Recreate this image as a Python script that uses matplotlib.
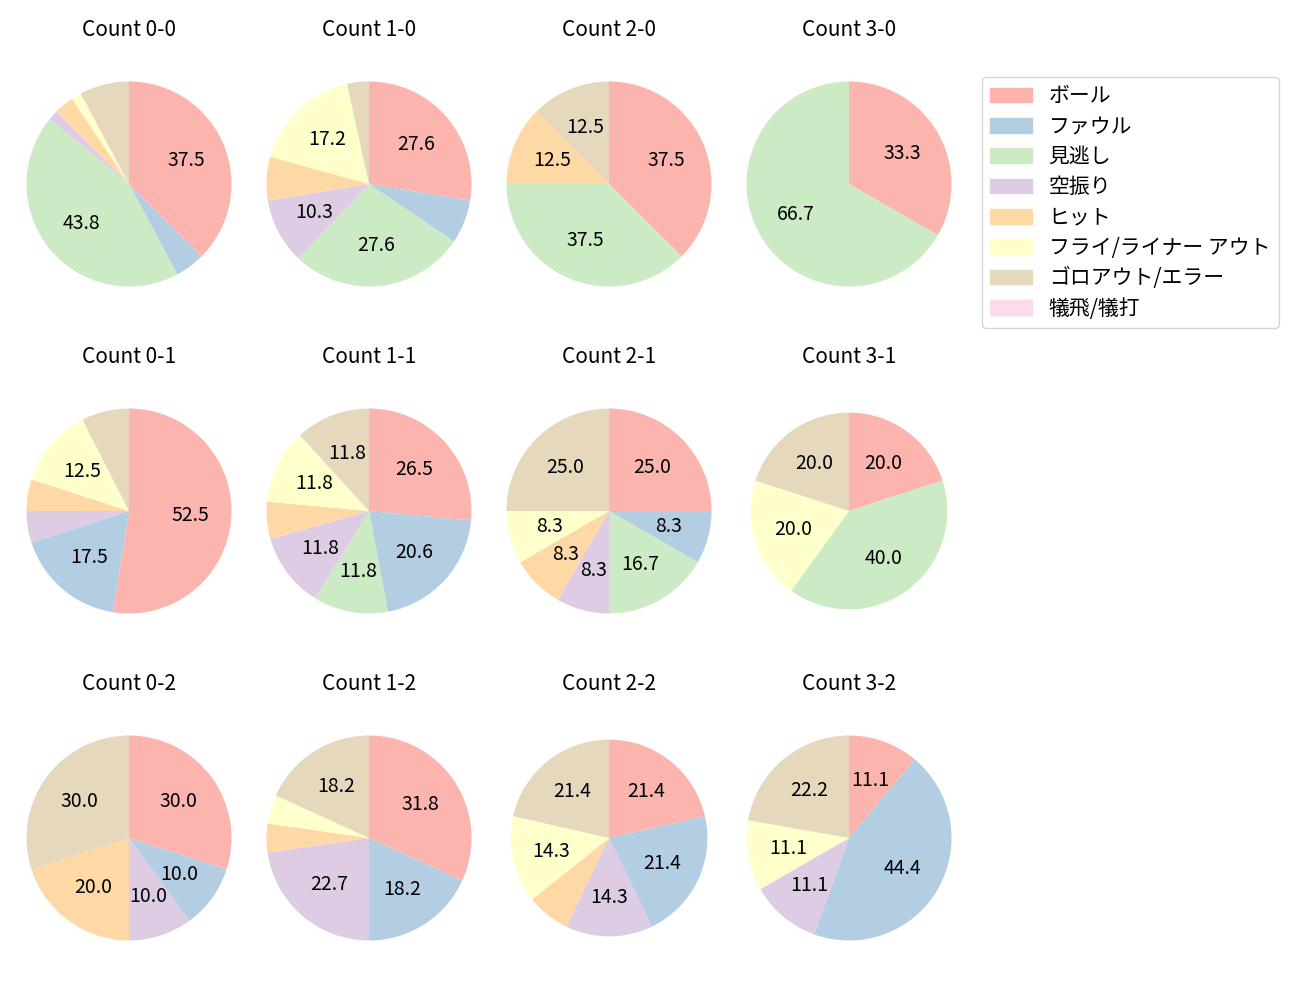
import matplotlib
matplotlib.use("Agg")
import matplotlib.pyplot as plt

plt.rcParams['font.family'] = ['Noto Sans CJK JP', 'DejaVu Sans']

categories = ['ボール', 'ファウル', '見逃し', '空振り', 'ヒット',
              'フライ/ライナー アウト', 'ゴロアウト/エラー', '犠飛/犠打']

titles = ['Count 0-0', 'Count 1-0', 'Count 2-0', 'Count 3-0',
          'Count 0-1', 'Count 1-1', 'Count 2-1', 'Count 3-1',
          'Count 0-2', 'Count 1-2', 'Count 2-2', 'Count 3-2']

# 件数 (カテゴリ順)
c00 = [24, 3, 28, 1, 2, 1, 5, 0]
c10 = [8, 2, 8, 3, 2, 5, 1, 0]
c20 = [3, 0, 3, 0, 1, 0, 1, 0]
c30 = [1, 0, 2, 0, 0, 0, 0, 0]
c01 = [21, 7, 0, 2, 2, 5, 3, 0]
c11 = [9, 7, 4, 4, 2, 4, 4, 0]
c21 = [3, 1, 2, 1, 1, 1, 3, 0]
c31 = [1, 0, 2, 0, 0, 1, 1, 0]
c02 = [3, 1, 0, 1, 2, 0, 3, 0]
c12 = [7, 4, 0, 5, 1, 1, 4, 0]
c22 = [3, 3, 0, 2, 1, 2, 3, 0]
c32 = [1, 4, 0, 1, 0, 1, 2, 0]

counts = [c00, c10, c20, c30, c01, c11, c21, c31, c02, c12, c22, c32]

# 円の大きさ (2-2, 3-1 は少し小さい)
radii = [1, 1, 1, 1, 1, 1, 1, 0.96, 1, 1, 0.96, 1]

colors = plt.cm.Pastel1.colors[:8]

W, H = 1300, 1000
cx = [129, 369, 609, 849]
cy = [184, 511, 838]
r = 102.5
size = 2.5 * r

fig = plt.figure(figsize=(13, 10), dpi=100)

for i, vals in enumerate(counts):
    row, col = divmod(i, 4)
    x0 = (cx[col] - size / 2) / W
    y0 = 1 - (cy[row] + size / 2) / H
    ax = fig.add_axes([x0, y0, size / W, size / H])
    ax.pie(vals, colors=colors, startangle=90, counterclock=False,
           radius=radii[i],
           autopct=lambda p: f'{p:.1f}' if p > 8 else '',
           textprops={'fontsize': 14})
    ax.set_xlim(-1.25, 1.25)
    ax.set_ylim(-1.25, 1.25)
    ax.set_title(titles[i], fontsize=15, pad=14.5)

handles = [plt.Rectangle((0, 0), 1, 1, color=c) for c in colors]
fig.legend(handles, categories, loc='upper left',
           bbox_to_anchor=(982 / W, 1 - 77 / H), borderaxespad=0,
           labelspacing=0.4, fontsize=15)

fig.savefig('out.png')
